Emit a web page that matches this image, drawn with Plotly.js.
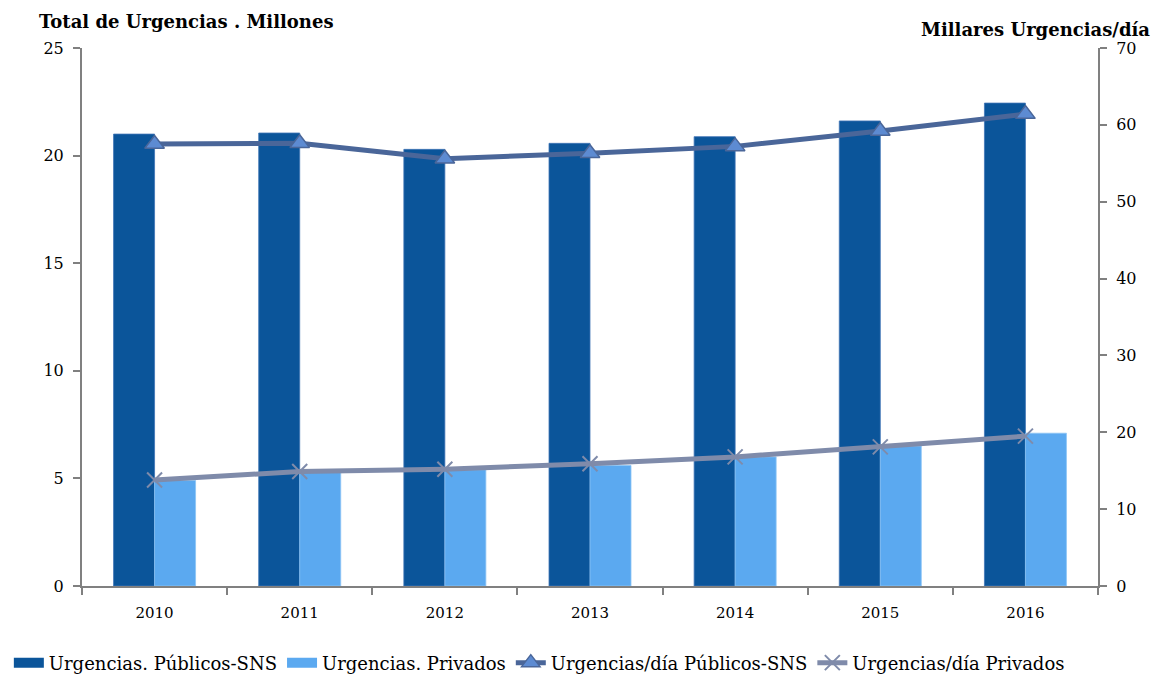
<!DOCTYPE html>
<html>
<head>
<meta charset="utf-8">
<script src="https://cdn.plot.ly/plotly-3.0.1.min.js"></script>
<style>html,body{margin:0;padding:0;background:#fff;}#chart{width:1171px;height:677px;}</style>
</head>
<body>
<div id="chart"></div>
<script>
const years = ['2010', '2011', '2012', '2013', '2014', '2015', '2016'];
const publicosMillones = [21.0, 21.05, 20.29, 20.57, 20.88, 21.61, 22.44];
const privadosMillones = [4.9, 5.3, 5.4, 5.6, 6.0, 6.5, 7.1];
const publicosDia = [57.5, 57.6, 55.6, 56.3, 57.2, 59.2, 61.4];
const privadosDia = [13.8, 14.9, 15.2, 15.9, 16.8, 18.1, 19.5];
const legendNames = ['Urgencias. Públicos-SNS', 'Urgencias. Privados', 'Urgencias/día Públicos-SNS', 'Urgencias/día Privados'];
const leftTitle = 'Total de Urgencias . Millones';
const rightTitle = 'Millares Urgencias/día';

const FONT = 'DejaVu Serif, Liberation Serif, serif';
const DARK = '#0B559A', LIGHT = '#5BA9F0', PUBL = '#4A6699', PRIV = '#7F8BAA';

const traces = [
  {type: 'bar', x: years, y: publicosMillones, name: legendNames[0], yaxis: 'y', showlegend: false,
   marker: {color: DARK, line: {color: '#3F73B5', width: 0.8}}},
  {type: 'bar', x: years, y: privadosMillones, name: legendNames[1], yaxis: 'y', showlegend: false,
   marker: {color: LIGHT, line: {color: '#8CC4F5', width: 0.8}}},
  // legend-only swatches for the bars (wide rectangles like the reference)
  {type: 'scatter', mode: 'lines', x: [null], y: [null], name: legendNames[0], yaxis: 'y',
   line: {color: DARK, width: 12}},
  {type: 'scatter', mode: 'lines', x: [null], y: [null], name: legendNames[1], yaxis: 'y',
   line: {color: LIGHT, width: 12}},
  {type: 'scatter', mode: 'lines+markers', x: years, y: publicosDia, name: legendNames[2], yaxis: 'y2',
   line: {color: PUBL, width: 5},
   marker: {symbol: 'triangle-up', size: 17, color: '#5D8BD2', line: {color: PUBL, width: 1.5}}},
  {type: 'scatter', mode: 'lines+markers', x: years, y: privadosDia, name: legendNames[3], yaxis: 'y2',
   line: {color: PRIV, width: 5},
   marker: {symbol: 'x-thin', size: 15, color: PRIV, line: {color: PRIV, width: 2}}}
];

const layout = {
  width: 1171, height: 677,
  margin: {l: 82, r: 73, t: 48, b: 91, autoexpand: false},
  paper_bgcolor: '#ffffff', plot_bgcolor: '#ffffff',
  font: {family: FONT, size: 15, color: '#000'},
  barmode: 'group', bargap: 0.435, bargroupgap: 0,
  showlegend: true,
  legend: {orientation: 'h', x: -0.072, y: -0.143,
           xanchor: 'left', yanchor: 'middle', font: {family: FONT, size: 18, color: '#000'},
           itemwidth: 30, tracegroupgap: 0, traceorder: 'normal'},
  xaxis: {type: 'category', showgrid: false, zeroline: false, showline: true,
          linecolor: '#808080', linewidth: 2, ticks: 'outside', tickson: 'boundaries',
          ticklen: 7, tickcolor: '#808080', tickwidth: 2, ticklabelstandoff: 12,
          tickfont: {family: FONT, size: 15}},
  yaxis: {range: [0, 25], dtick: 5, showgrid: false, zeroline: false, showline: true,
          linecolor: '#808080', linewidth: 2, ticks: 'outside', ticklen: 7, tickcolor: '#808080',
          tickwidth: 2, tickfont: {family: FONT, size: 16}, ticklabelstandoff: 6},
  yaxis2: {range: [0, 70], dtick: 10, overlaying: 'y', side: 'right', showgrid: false,
           zeroline: false, showline: true, linecolor: '#808080', linewidth: 2,
           ticks: 'outside', ticklen: 7, tickcolor: '#808080', tickwidth: 2,
           tickfont: {family: FONT, size: 16}, ticklabelstandoff: 6},
  annotations: [
    {text: '<b>' + leftTitle + '</b>', xref: 'paper', yref: 'paper', x: -0.044, y: 1.0,
     xanchor: 'left', yanchor: 'bottom', yshift: 14, showarrow: false,
     font: {family: FONT, size: 18, color: '#000'}},
    {text: '<b>' + rightTitle + '</b>', xref: 'paper', yref: 'paper', x: 1.053, y: 1.0,
     xanchor: 'right', yanchor: 'bottom', yshift: 6, showarrow: false,
     font: {family: FONT, size: 18, color: '#000'}}
  ]
};

Plotly.newPlot('chart', traces, layout, {displayModeBar: false, staticPlot: true});
</script>
</body>
</html>
